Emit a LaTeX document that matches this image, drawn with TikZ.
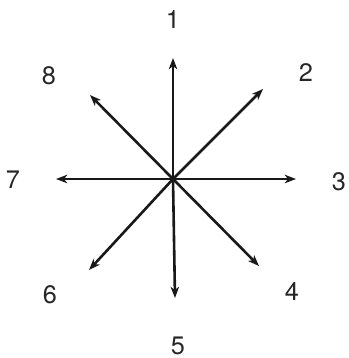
\documentclass[tikz,border=0pt]{standalone}
\usepackage{fontspec}
\setmainfont{TeX Gyre Heros}
\usetikzlibrary{arrows.meta}
\tikzset{
  dirarr/.style={-{Stealth[length=2.8mm, width=2.1mm, inset=0.8mm]}, line width=0.65mm, color=black!90},
  dirlbl/.style={font=\fontsize{18}{21}\selectfont, text=black!85, inner sep=0pt},
}
\begin{document}
\begin{tikzpicture}[x=0.25mm, y=-0.25mm]
  \useasboundingbox (0,0) rectangle (349,358);
  \coordinate (o) at (173,179);
  \coordinate (t1) at (173,58);
  \coordinate (t2) at (263,89);
  \coordinate (t3) at (296,179);
  \coordinate (t4) at (259,266);
  \coordinate (t5) at (175,298);
  \coordinate (t6) at (89,270);
  \coordinate (t7) at (56,179);
  \coordinate (t8) at (90,95);
  \node[dirlbl] (n1) at (173,20) {1};
  \node[dirlbl] (n2) at (306,73) {2};
  \node[dirlbl] (n3) at (339,182) {3};
  \node[dirlbl] (n4) at (292,292) {4};
  \node[dirlbl] (n5) at (178,346) {5};
  \node[dirlbl] (n6) at (50,295) {6};
  \node[dirlbl] (n7) at (13,180) {7};
  \node[dirlbl] (n8) at (49,76) {8};
  \draw[dirarr] (o)--(t1); \draw[dirarr] (o)--(t2); \draw[dirarr] (o)--(t3); \draw[dirarr] (o)--(t4);
  \draw[dirarr] (o)--(t5); \draw[dirarr] (o)--(t6); \draw[dirarr] (o)--(t7); \draw[dirarr] (o)--(t8);
\end{tikzpicture}
\end{document}
